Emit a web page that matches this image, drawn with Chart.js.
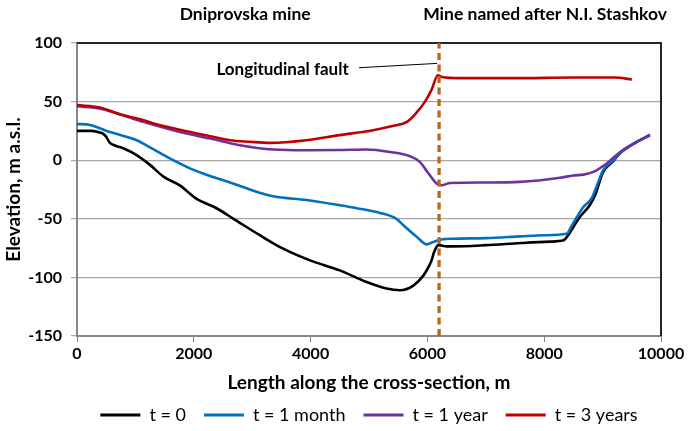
<!DOCTYPE html>
<html>
<head>
<meta charset="utf-8">
<script src="https://cdn.jsdelivr.net/npm/chart.js@4"></script>
<style>
  html, body { margin: 0; padding: 0; background: #fff; }
  #wrap { width: 688px; height: 431px; }
</style>
</head>
<body>
<div id="wrap"><canvas id="chart"></canvas></div>
<script>
// distance along the section (m) and elevation (m a.s.l.) for every curve
const t0Dist = [0, 250, 400, 450, 500, 560, 650, 800, 1000, 1250, 1480, 1760, 2050, 2390, 2680, 3130, 3530, 3990, 4500, 4960, 5300, 5530, 5760, 5930, 6020, 6075, 6110, 6190, 6330, 6450, 7000, 7600, 8100, 8330, 8410, 8500, 8610, 8780, 8870, 9010, 9180, 9300, 9530, 9810];
const t0Elev = [25, 25, 23.5, 22.5, 20, 15, 12.5, 10, 5, -4, -14, -21.5, -33, -41, -50, -64, -75.5, -85.5, -94, -104, -109.5, -111, -107, -98.5, -91, -85, -79, -72.5, -73.5, -73.5, -72.5, -70.7, -69.5, -68.4, -64, -57, -48.5, -38.5, -30, -10, -1, 6, 14, 21.5];

const t1mDist = [0, 220, 565, 1020, 1250, 1590, 1935, 2280, 2620, 2960, 3360, 3930, 4500, 4790, 5190, 5470, 5590, 5820, 5990, 6100, 6270, 6440, 7000, 7590, 8000, 8385, 8470, 8560, 8670, 8810, 8900, 9010, 9180, 9300, 9530, 9810];
const t1mElev = [31, 30, 24, 17, 11, 1.5, -7, -13.5, -19, -25, -30.8, -34, -38.5, -41, -45, -50, -55.5, -65.5, -71.8, -69.8, -67.5, -67, -66.5, -65, -64, -62.7, -56, -48.5, -40, -32.7, -22, -8.5, -0.6, 6, 14, 21.5];

const t1yDist = [0, 400, 1080, 1760, 2280, 2790, 2960, 3360, 3930, 4500, 4960, 5360, 5700, 5870, 6020, 6160, 6245, 6390, 7000, 7590, 8270, 8500, 8670, 8840, 9070, 9300, 9530, 9810];
const t1yElev = [46, 44, 33.5, 24, 18.5, 12.8, 11.4, 9.1, 8.5, 8.7, 9.1, 7, 3.4, -1.4, -11.4, -20, -21.4, -19.4, -19, -18.5, -15, -13, -12.3, -10, -2.8, 7, 14.2, 21.5];

const t3yDist = [0, 390, 740, 1080, 1310, 1760, 2280, 2620, 2960, 3300, 3930, 4500, 5070, 5420, 5650, 5820, 5960, 6070, 6180, 6250, 6560, 7500, 8500, 9200, 9500];
const t3yElev = [47, 45, 39, 35, 31.3, 26, 20.5, 17, 15.7, 14.8, 17, 21.4, 25.6, 29.3, 32.7, 41, 50, 60, 72.5, 71, 70, 70, 70.5, 70.5, 69];

const seriesNames = ['t = 0', 't = 1 month', 't = 1 year', 't = 3 years'];
const seriesColors = ['#000000', '#0070C0', '#7030A0', '#C00000'];

const faultDist = [6200, 6200];
const faultElev = [-150, 100];
const leaderDist = [4830, 6165];
const leaderElev = [78.9, 82.6];

const xTicks = [0, 2000, 4000, 6000, 8000, 10000];
const yTicks = [-150, -100, -50, 0, 50, 100];

const FONT = 'Lato, "Noto Sans", sans-serif';

function pts(xs, ys) {
    return xs.map((x, i) => ({ x: x, y: ys[i] }));
}

function curve(i, xs, ys) {
    return {
        label: seriesNames[i],
        data: pts(xs, ys),
        borderColor: seriesColors[i],
        backgroundColor: seriesColors[i],
        borderWidth: 2.6,
        pointRadius: 0,
        cubicInterpolationMode: 'monotone',
        order: 5 - i
    };
}

// frame on top and right + text labels
const extras = {
    id: 'extras',
    beforeDatasetsDraw(chart) {
        const a = chart.chartArea;
        const c = chart.ctx;
        c.save();
        c.strokeStyle = '#262626';
        c.lineWidth = 2;
        c.beginPath();
        c.moveTo(a.left, a.top);
        c.lineTo(a.right, a.top);
        c.lineTo(a.right, a.bottom);
        c.stroke();
        c.restore();
    },
    afterDraw(chart) {
        const c = chart.ctx;
        const xs = chart.scales.x, ys = chart.scales.y;
        c.save();
        c.fillStyle = '#000';
        c.font = 'bold 17.5px ' + FONT;
        c.textAlign = 'center';
        c.textBaseline = 'middle';
        c.fillText('Dniprovska mine', xs.getPixelForValue(2880), 14);
        c.fillText('Mine named after N.I. Stashkov', xs.getPixelForValue(8015), 14);
        c.font = 'bold 17px ' + FONT;
        c.fillText('Longitudinal fault', xs.getPixelForValue(3520), ys.getPixelForValue(77));
        c.restore();
    }
};

new Chart(document.getElementById('chart'), {
    type: 'line',
    data: {
        datasets: [
            curve(0, t0Dist, t0Elev),
            curve(1, t1mDist, t1mElev),
            curve(2, t1yDist, t1yElev),
            curve(3, t3yDist, t3yElev),
            {
                label: 'fault',
                data: pts(faultDist, faultElev),
                borderColor: '#B8651E',
                borderWidth: 3.3,
                borderDash: [7, 4.5],
                pointRadius: 0,
                order: 0
            },
            {
                label: 'leader',
                data: pts(leaderDist, leaderElev),
                borderColor: '#000',
                borderWidth: 1,
                pointRadius: 0,
                order: 0
            }
        ]
    },
    options: {
        responsive: true,
        maintainAspectRatio: false,
        animation: false,
        layout: { padding: { left: 0, right: 27, top: 43, bottom: 0 } },
        plugins: {
            tooltip: { enabled: false },
            legend: {
                position: 'bottom',
                fullSize: false,
                maxHeight: 43,
                labels: {
                    font: { family: FONT, size: 18 },
                    color: '#000',
                    boxWidth: 40,
                    boxHeight: 3,
                    padding: 18,
                    generateLabels: function() {
                        return seriesNames.map((n, i) => ({
                            text: n,
                            fillStyle: seriesColors[i],
                            strokeStyle: seriesColors[i],
                            lineWidth: 0,
                            datasetIndex: i
                        }));
                    }
                }
            }
        },
        scales: {
            x: {
                type: 'linear',
                min: 0,
                max: 10000,
                afterBuildTicks: (s) => { s.ticks = xTicks.map(v => ({ value: v })); },
                afterFit: (s) => { s.height = 52; },
                grid: { drawOnChartArea: false, drawTicks: true, tickLength: 6, color: '#868686' },
                border: { color: '#868686', width: 2 },
                ticks: {
                    font: { family: FONT, size: 16, weight: 'bold' },
                    color: '#000',
                    padding: 2,
                    maxRotation: 0,
                    callback: (v) => String(v)
                },
                title: {
                    display: true,
                    text: 'Length along the cross-section, m',
                    font: { family: FONT, size: 19, weight: 'bold' },
                    color: '#000',
                    padding: { top: 0, bottom: -6.4 }
                }
            },
            y: {
                type: 'linear',
                min: -150,
                max: 100,
                afterBuildTicks: (s) => { s.ticks = yTicks.map(v => ({ value: v })); },
                afterFit: (s) => { s.width = 77; },
                grid: { color: '#a6a6a6', lineWidth: 1.2, tickLength: 6 },
                border: { color: '#868686', width: 2 },
                ticks: { font: { family: FONT, size: 16, weight: 'bold' }, color: '#000', padding: 9 },
                title: {
                    display: true,
                    text: 'Elevation, m a.s.l.',
                    font: { family: FONT, size: 19, weight: 'bold' },
                    color: '#000',
                    padding: { top: 2.5, bottom: 0 }
                }
            }
        }
    },
    plugins: [extras]
});
</script>
</body>
</html>
